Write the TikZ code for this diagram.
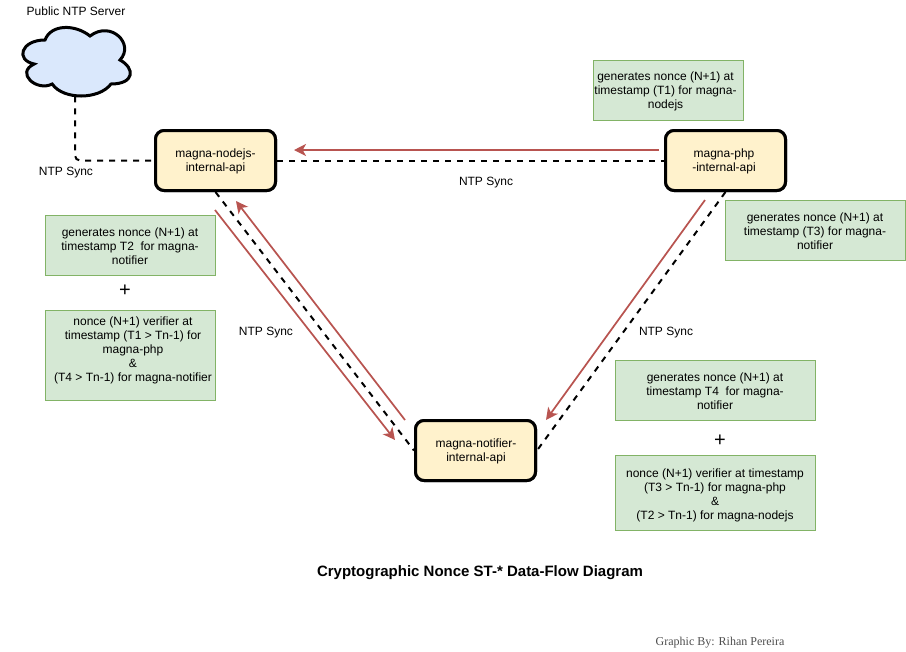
\documentclass[tikz,border=0pt]{standalone}
\usepackage{fontspec}
\setmainfont{Liberation Sans}
\newfontfamily\creditfont{Liberation Serif}
\usetikzlibrary{arrows.meta}
\definecolor{greenfill}{HTML}{D5E8D4}
\definecolor{greenline}{HTML}{82B366}
\definecolor{yellowfill}{HTML}{FFF2CC}
\definecolor{bluefill}{HTML}{DAE8FC}
\definecolor{redline}{HTML}{B85450}
\definecolor{creditgray}{HTML}{4D4D4D}
\tikzset{
  x=0.75pt,y=-0.75pt,
  every node/.style={font=\fontsize{9}{10.5}\selectfont,inner sep=0pt,align=center},
  service/.style={draw=black,line width=2.25pt,fill=yellowfill,rounded corners=6.5pt,minimum width=90pt,minimum height=45pt},
  notebox/.style={draw=greenline,line width=0.75pt,fill=greenfill},
  ntplink/.style={draw=black,line width=1.5pt,dash pattern=on 4.5pt off 4.5pt},
  flowlink/.style={draw=redline,line width=1.3pt,-{Stealth[length=9pt,width=9pt,inset=2.5pt]}},
}
\begin{document}
\begin{tikzpicture}
\useasboundingbox (0,0) rectangle (906,651);
% anchors
\node[minimum width=90pt,minimum height=57pt] (cloud) at (75,58) {};
\node[service] (nodejs) at (215.5,160.5) {};
\node[service] (php) at (725.5,160.5) {};
\node[service] (notifier) at (475.5,450.5) {};
% NTP links
\draw[ntplink,rounded corners=3.75pt] (cloud.south) |- (nodejs.west);
\draw[ntplink] (nodejs.east) -- (php.west);
\draw[ntplink] (nodejs.south) -- (notifier.west);
\draw[ntplink] (php.south) -- (notifier.east);
% cloud outline
\draw[fill=bluefill,draw=black,line width=2.25pt]
  (45,40) .. controls (21,40) and (15,60) .. (34.2,64)
  .. controls (15,72.8) and (36.6,92) .. (52.2,84)
  .. controls (63,100) and (99,100) .. (111,84)
  .. controls (135,84) and (135,68) .. (120,60)
  .. controls (135,44) and (111,20) .. (90,36)
  .. controls (75,24) and (51,24) .. (45,40) -- cycle;
% services on top of the links, with their text
\node[service] at (nodejs) {};
\node[service] at (php) {};
\node[service] at (notifier) {};
\node (nodejst) at (215.5,161.5) {magna-nodejs-\\internal-api};
\node (phpt) at (724,161.5) {magna-php\\-internal-api};
\node (notifiert) at (476,451.5) {magna-notifier-\\internal-api};
% flow arrows
\coordinate (f1s) at (659,150); \coordinate (f1e) at (294,150);
\coordinate (f2s) at (215,210); \coordinate (f2e) at (395,440);
\coordinate (f3s) at (405,420); \coordinate (f3e) at (236,201);
\coordinate (f4s) at (705,200); \coordinate (f4e) at (546,420);
\draw[flowlink] (f1s) -- (f1e);
\draw[flowlink] (f2s) -- (f2e);
\draw[flowlink] (f3s) -- (f3e);
\draw[flowlink] (f4s) -- (f4e);
% note boxes
\node[notebox,minimum width=112.5pt,minimum height=45pt] (n1) at (668,90.5) {};
\node (n1t) at (665.5,91.5) {generates nonce (N+1) at\\timestamp (T1) for magna-\\nodejs};
\node[notebox,minimum width=135pt,minimum height=45pt] (n3) at (815.5,230.5) {};
\node (n3t) at (815,231.5) {generates nonce (N+1) at\\timestamp (T3) for magna-\\notifier};
\node[notebox,minimum width=127.5pt,minimum height=45pt] (n2) at (130.5,245.5) {};
\node (n2t) at (130,246.5) {generates nonce (N+1) at\\timestamp T2\ \ for magna-\\notifier};
\node[notebox,minimum width=127.5pt,minimum height=67.5pt] (v2) at (130.5,355.5) {};
\node (v2t) at (133,350) {nonce (N+1) verifier at\\timestamp (T1 > Tn-1) for\\magna-php\\\&\\(T4 > Tn-1) for magna-notifier};
\node[notebox,minimum width=150pt,minimum height=45pt] (n4) at (715.5,390.5) {};
\node (n4t) at (715,391.5) {generates nonce (N+1) at\\timestamp T4\ \ for magna-\\notifier};
\node[notebox,minimum width=150pt,minimum height=56.25pt] (v4) at (715.5,493) {};
\node (v4t) at (715,495) {nonce (N+1) verifier at timestamp\\(T3 > Tn-1) for magna-php\\\&\\(T2 > Tn-1) for magna-nodejs};
% labels
\node (lpublic) at (76,11) {Public NTP Server};
\node (l1) at (66,173) {NTP Sync};
\node (l2) at (486,183) {NTP Sync};
\node (l3) at (266,333) {NTP Sync};
\node (l4) at (666,333) {NTP Sync};
\node[font=\fontsize{15}{17}\selectfont] (plus1) at (125,291) {+};
\node[font=\fontsize{15}{17}\selectfont] (plus2) at (720,441) {+};
\node[font=\fontsize{11.25}{13}\selectfont\bfseries] (title) at (480,572.5) {Cryptographic Nonce ST-* Data-Flow Diagram};
\node[font=\fontsize{9}{11}\creditfont,text=creditgray] (credit) at (720,642.5) {Graphic By: Rihan Pereira};
\end{tikzpicture}
\end{document}
